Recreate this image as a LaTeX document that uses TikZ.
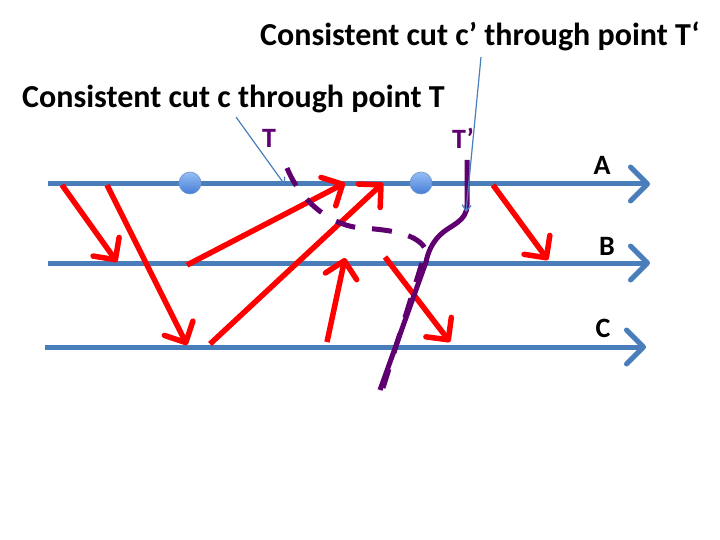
\documentclass[tikz,border=0pt]{standalone}
\usepackage{fontspec}
\setmainfont{Carlito}
\usepackage{tikz}
\usetikzlibrary{arrows.meta}
\definecolor{procblue}{RGB}{74,126,187}
\definecolor{msgred}{RGB}{255,0,0}
\definecolor{cutpurple}{RGB}{96,0,112}
\definecolor{dottop}{RGB}{150,190,245}
\definecolor{dotbot}{RGB}{70,125,215}

\begin{document}
\begin{tikzpicture}[x=1pt,y=-1pt,
  procline/.style={draw=procblue,line width=5pt,-{Straight Barb[length=17pt,width=34pt,round]}},
  msg/.style={draw=msgred,line width=5.5pt,-{Straight Barb[length=16pt,width=32pt,round]}},
  proclabel/.style={font=\fontsize{28}{32}\selectfont\bfseries,inner sep=0pt},
  cutlabel/.style={font=\fontsize{28}{32}\selectfont\bfseries,text=cutpurple,inner sep=0pt},
  title/.style={font=\fontsize{32}{36}\selectfont\bfseries,inner sep=0pt,anchor=base west},
  event/.style={circle,minimum size=22pt,inner sep=0pt,draw=procblue!80,line width=.6pt,top color=dottop,bottom color=dotbot},
  callout/.style={draw=procblue,line width=1.2pt,-{Straight Barb[length=6pt,width=9pt]}}]
\useasboundingbox (0,0) rectangle (720,540);

% process lines
\coordinate (A0) at (48,184); \coordinate (A1) at (650,184);
\coordinate (B0) at (48,263); \coordinate (B1) at (650,263);
\coordinate (C0) at (45,347); \coordinate (C1) at (646,347);
\draw[procline] (A0)--(A1);
\draw[procline] (B0)--(B1);
\draw[procline] (C0)--(C1);
\node[proclabel] (labA) at (602,165) {A};
\node[proclabel] (labB) at (607,246) {B};
\node[proclabel] (labC) at (603,328) {C};

\node[event] (e1) at (190,183) {};
\node[event] (e2) at (421,183) {};

% message end points
\foreach \n/\x/\y in {s1/62/185, t1/117/262, s2/107/185, t2/187/345,
  s3/187/265, t3/345/183, s4/210/344, t4/383/183, s5/327/342, t5/345/258,
  s6/385/257, t6/450/342, s7/493/185, t7/548/260}
  \coordinate (\n) at (\x,\y);
\foreach \i in {1,...,7}
  \draw[msg] (s\i)--(t\i);

% cuts
\draw[cutpurple,line width=5pt,dash pattern=on 20pt off 17pt]
  (287,168) .. controls (300,200) and (330,226) .. (362,228)
  .. controls (392,230) and (418,234) .. (426,250) -- (383,388);
\draw[cutpurple,line width=5pt]
  (467,160) -- (467,205) .. controls (467,222) and (450,225) .. (440,235)
  .. controls (432,243) and (428,252) .. (426,262) -- (380,390);
\node[cutlabel] (T) at (269,138) {T};
\node[cutlabel] (Tp) at (463,138) {T’};

% captions
\node[title] (capcp) at (260,46) {Consistent cut c’ through point T‘};
\node[title] (capc) at (22,108) {Consistent cut c through point T};
\coordinate (cpfoot) at (481,57); \coordinate (cphead) at (466,212);
\coordinate (cfoot) at (236,117); \coordinate (chead) at (285,185);
\draw[callout] (cpfoot)--(cphead);
\draw[callout] (cfoot)--(chead);
\end{tikzpicture}
\end{document}
